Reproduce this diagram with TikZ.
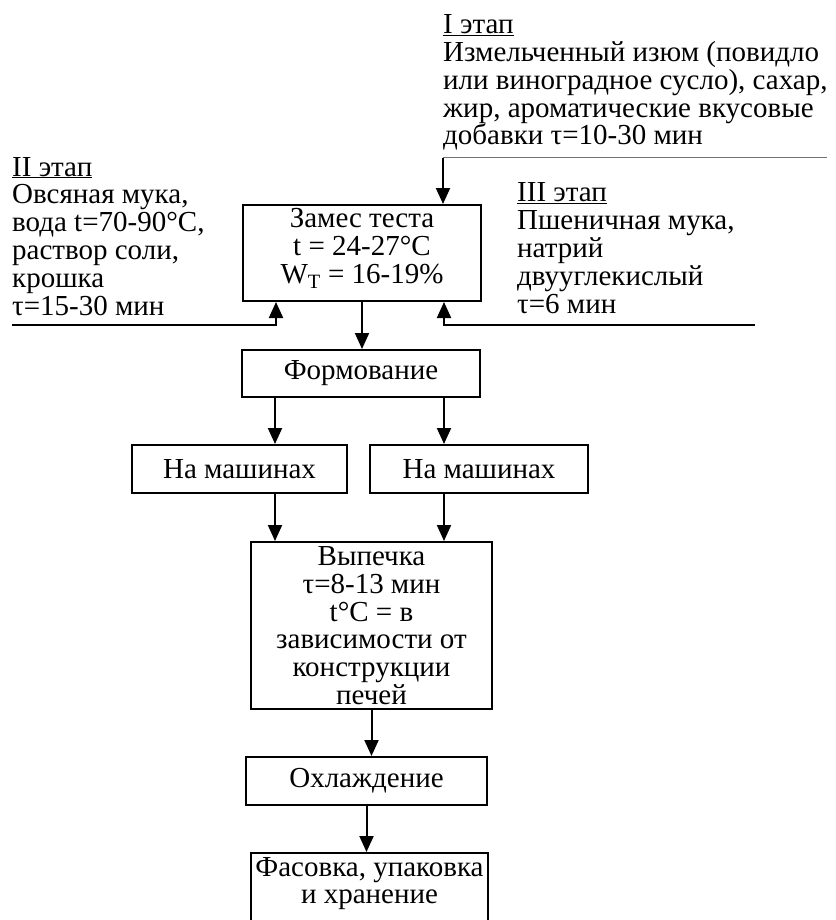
\documentclass[tikz,border=0pt]{standalone}
\usepackage{fontspec}
\setmainfont{Liberation Serif}
\usetikzlibrary{arrows.meta,positioning,calc}

\newcommand{\bigfont}{\fontsize{29}{27.8}\selectfont}
\tikzset{
  box/.style={draw, line width=2pt, align=center, inner sep=1pt, font=\bigfont},
  feed/.style={align=left, inner sep=0pt, font=\bigfont, anchor=base west},
  arr/.style={line width=2pt, -{Triangle[length=16pt,width=14pt]}},
}

\begin{document}
\begin{tikzpicture}[x=1pt,y=-1pt]
\useasboundingbox (0,0) rectangle (835,920);
\clip (0,0) rectangle (835,920);

% stages (text only), placed by the last line
\node[feed] (st1) at (443,145) {\underline{I этап}\\ Измельченный изюм (повидло\\ или виноградное сусло), сахар,\\ жир, ароматические вкусовые\\ добавки τ=10-30 мин};
\node[feed] (st2) at (12,315) {\underline{II этап}\\ Овсяная мука,\\ вода t=70-90°C,\\ раствор соли,\\ крошка\\ τ=15-30 мин};
\node[feed] (st3) at (517,313) {\underline{III этап}\\ Пшеничная мука,\\ натрий\\ двууглекислый\\ τ=6 мин};

% process boxes
\node[box, minimum width=238pt, minimum height=96pt, text depth=14pt] (zames) at (362,253) {Замес теста\\ t = 24-27°C\\ W\textsubscript{T} = 16-19\%};
\node[box, minimum width=238pt, minimum height=47pt] (form) at (361,373.5) {Формование};
\node[box, minimum width=215pt, minimum height=48pt] (mash1) at (239.5,469) {На машинах};
\node[box, minimum width=218pt, minimum height=48pt] (mash2) at (479,469) {На машинах};
\node[box, minimum width=241pt, minimum height=167pt, text depth=0pt] (vyp) at (371.5,625.5) {Выпечка\\ τ=8-13 мин\\ t°C = в\\ зависимости от\\ конструкции\\ печей};
\node[box, minimum width=241pt, minimum height=48pt] (okhl) at (366.5,781) {Охлаждение};
\node[box, minimum width=235pt, anchor=north, inner sep=4pt, text depth=60pt] (fas) at (369.5,852) {Фасовка, упаковка\\ и хранение};

% feeds
\coordinate (topin) at (443,158);
\coordinate (topend) at (827,158);
\coordinate (leftin) at (12,325);
\coordinate (rightin) at (755,325);
\draw[black!55, line width=1pt] (topin) -- (topend);
\draw[arr] (topin) -- (topin |- zames.north);
\draw[arr] (leftin) -| ([xshift=34pt]zames.south west);
\draw[arr] (rightin) -| ([xshift=-38pt]zames.south east);

% main flow
\draw[arr] (zames.south) -- (zames.south |- form.north);
\draw[arr] ([xshift=34pt]form.south west) coordinate (colL) -- (colL |- mash1.north);
\draw[arr] ([xshift=-37pt]form.south east) coordinate (colR) -- (colR |- mash2.north);
\draw[arr] (colL |- mash1.south) -- (colL |- vyp.north);
\draw[arr] (colR |- mash2.south) -- (colR |- vyp.north);
\draw[arr] (vyp.south) -- (vyp.south |- okhl.north);
\draw[arr] (okhl.south) -- (okhl.south |- fas.north);
\end{tikzpicture}
\end{document}
